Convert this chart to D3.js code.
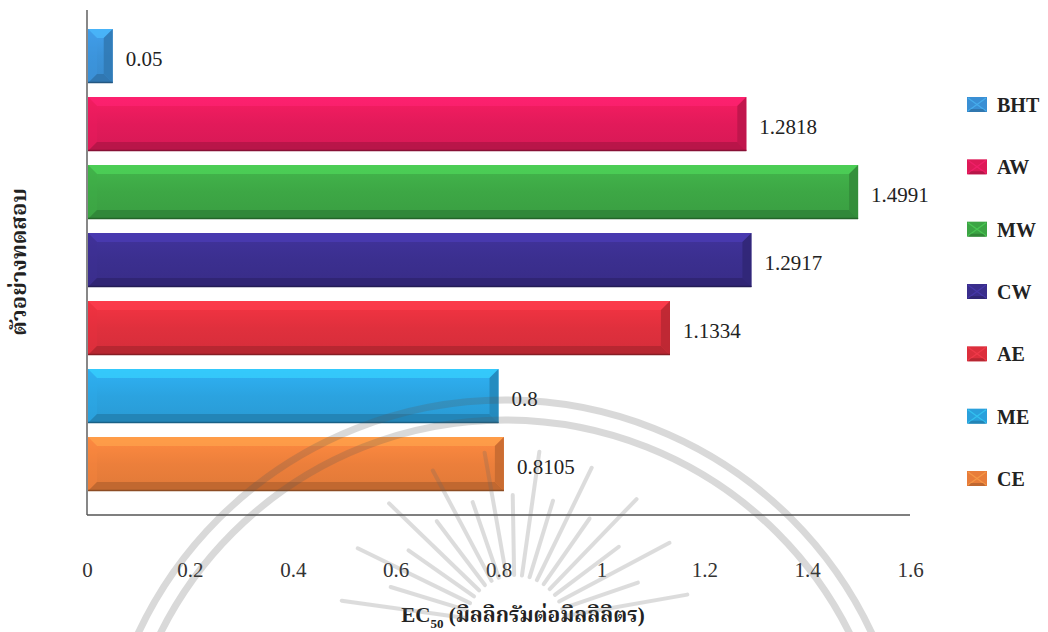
<!DOCTYPE html>
<html>
<head>
<meta charset="utf-8">
<script src="https://cdn.jsdelivr.net/npm/d3@7"></script>
<style>
  html, body { margin: 0; padding: 0; background: #ffffff; }
  svg { display: block; }
  .serif { font-family: "Liberation Serif", "Times New Roman", "Noto Serif Thai", "Noto Sans Thai", serif; }
</style>
</head>
<body>
<svg id="chart" width="1048" height="632"></svg>
<script>
// Samples and their EC50 values (mg/mL)
const categories = ["BHT", "AW", "MW", "CW", "AE", "ME", "CE"];
const values = [0.05, 1.2818, 1.4991, 1.2917, 1.1334, 0.8, 0.8105];
const barColors = ["#3a8fd4", "#de1a58", "#3ca444", "#3a2e8c", "#dc2f3c", "#2aa0dc", "#e87d3a"];
const xTicks = [0, 0.2, 0.4, 0.6, 0.8, 1, 1.2, 1.4, 1.6];
const valueLabels = ["0.05", "1.2818", "1.4991", "1.2917", "1.1334", "0.8", "0.8105"];

const svg = d3.select("#chart");
const plot = { left: 87, right: 910, top: 10, bottom: 515 };

const x = d3.scaleLinear().domain([0, 1.6]).range([plot.left, plot.right]);
const y = d3.scaleBand().domain(categories)
  .range([22, 22 + 68 * categories.length])
  .paddingInner(14 / 68).paddingOuter(7 / 68);

const defs = svg.append("defs");

// vertical sheen for each bar face
barColors.forEach((c, i) => {
  const g = defs.append("linearGradient").attr("id", "face" + i)
    .attr("x1", 0).attr("y1", 0).attr("x2", 0).attr("y2", 1);
  g.append("stop").attr("offset", "0%").attr("stop-color", d3.color(c).brighter(0.3));
  g.append("stop").attr("offset", "50%").attr("stop-color", d3.color(c).brighter(0.05));
  g.append("stop").attr("offset", "100%").attr("stop-color", d3.color(c).darker(0.1));
});

// axis lines
svg.append("line")
  .attr("x1", plot.left).attr("x2", plot.left)
  .attr("y1", plot.top).attr("y2", plot.bottom)
  .attr("stroke", "#555").attr("stroke-width", 1.4);
svg.append("line")
  .attr("x1", plot.left).attr("x2", plot.right)
  .attr("y1", plot.bottom).attr("y2", plot.bottom)
  .attr("stroke", "#555").attr("stroke-width", 1.4);

// beveled bars
const bars = svg.append("g").selectAll("g.bar")
  .data(categories.map((c, i) => ({ c, v: values[i], i })))
  .join("g").attr("class", "bar");

bars.each(function(d) {
  const g = d3.select(this);
  const x0 = x(0) + 1, x1 = x(d.v);
  const y0 = y(d.c), y1 = y(d.c) + y.bandwidth();
  const w = x1 - x0;
  const b = Math.min(9, w / 2);
  const base = barColors[d.i];
  g.append("rect").attr("x", x0).attr("y", y0).attr("width", w).attr("height", y1 - y0)
    .attr("fill", `url(#face${d.i})`);
  const poly = (pts, fill, op) => g.append("polygon")
    .attr("points", pts.map(p => p.join(",")).join(" "))
    .attr("fill", fill).attr("fill-opacity", op);
  // top facet
  poly([[x0, y0], [x1, y0], [x1 - b, y0 + b], [x0 + b, y0 + b]], d3.color(base).brighter(0.8), 0.65);
  // left facet
  poly([[x0, y0], [x0 + b, y0 + b], [x0 + b, y1 - b], [x0, y1]], d3.color(base).brighter(0.2), 0.35);
  // bottom facet
  poly([[x0, y1], [x0 + b, y1 - b], [x1 - b, y1 - b], [x1, y1]], d3.color(base).darker(0.6), 0.85);
  // right facet
  poly([[x1, y0], [x1, y1], [x1 - b, y1 - b], [x1 - b, y0 + b]], d3.color(base).darker(0.45), 0.9);
  g.append("line").attr("x1", x0).attr("x2", x1).attr("y1", y1 - 0.5).attr("y2", y1 - 0.5)
    .attr("stroke", d3.color(base).darker(1.4)).attr("stroke-width", 1.5);
});

// value labels
svg.append("g").selectAll("text")
  .data(categories.map((c, i) => ({ c, v: values[i], t: valueLabels[i] })))
  .join("text")
  .attr("class", "serif")
  .attr("x", d => x(d.v) + 13)
  .attr("y", d => y(d.c) + y.bandwidth() / 2 + 3)
  .attr("dy", "0.35em")
  .attr("font-size", 21)
  .attr("fill", "#222")
  .text(d => d.t);

// x tick labels
const xAxis = d3.axisBottom(x).tickValues(xTicks).tickSize(0).tickPadding(47)
  .tickFormat(d3.format("~g"));
const gx = svg.append("g").attr("transform", `translate(0,${plot.bottom})`).call(xAxis);
gx.select(".domain").remove();
gx.selectAll("text").attr("class", "serif").attr("font-size", 21).attr("fill", "#333");

// axis titles
const xt = svg.append("text").attr("class", "serif")
  .attr("x", 523).attr("y", 622).attr("text-anchor", "middle")
  .attr("font-size", 21).attr("font-weight", "bold").attr("fill", "#222");
xt.append("tspan").text("EC");
xt.append("tspan").attr("font-size", 13).attr("dy", 6).text("50");
xt.append("tspan").attr("dy", -6).text(" (มิลลิกรัมต่อมิลลิลิตร)");

svg.append("text").attr("class", "serif")
  .attr("transform", "translate(26,262) rotate(-90)")
  .attr("text-anchor", "middle")
  .attr("font-size", 22).attr("font-weight", "bold").attr("fill", "#222")
  .text("ตัวอย่างทดสอบ");

// legend
const legendY = d3.scalePoint().domain(categories).range([105, 479]);
const lg = svg.append("g").selectAll("g")
  .data(categories.map((c, i) => ({ c, i })))
  .join("g")
  .attr("transform", d => `translate(967,${legendY(d.c)})`);
lg.append("rect").attr("x", 0).attr("y", -8).attr("width", 20).attr("height", 15)
  .attr("fill", d => barColors[d.i]);
lg.append("path")
  .attr("d", "M1,-7 L19,6 M19,-7 L1,6")
  .attr("stroke", d => d3.color(barColors[d.i]).brighter(0.9))
  .attr("stroke-opacity", 0.55).attr("stroke-width", 1.3);
lg.append("path")
  .attr("d", "M4,4 L16,4 L19,7 L1,7 Z")
  .attr("fill", d => d3.color(barColors[d.i]).darker(0.8)).attr("fill-opacity", 0.7);
lg.append("text").attr("class", "serif")
  .attr("x", 30).attr("y", 0).attr("dy", "0.35em")
  .attr("font-size", 20).attr("font-weight", "bold").attr("fill", "#222")
  .text(d => d.c);

// faint emblem in the background of the lower half
const emblem = svg.append("g").attr("pointer-events", "none").attr("opacity", 0.22);
[385, 405].forEach(r => {
  emblem.append("circle").attr("cx", 505).attr("cy", 805).attr("r", r)
    .attr("fill", "none").attr("stroke", "#555").attr("stroke-width", 7);
});
d3.range(-172, -8, 9).forEach((a, k) => {
  const rad = a * Math.PI / 180;
  const r0 = 50, r1 = k % 2 ? 130 : 175;
  emblem.append("line")
    .attr("x1", 515 + r0 * Math.cos(rad)).attr("y1", 625 + r0 * Math.sin(rad))
    .attr("x2", 515 + r1 * Math.cos(rad)).attr("y2", 625 + r1 * Math.sin(rad))
    .attr("stroke", "#666").attr("stroke-width", 4).attr("stroke-linecap", "round");
});
</script>
</body>
</html>
